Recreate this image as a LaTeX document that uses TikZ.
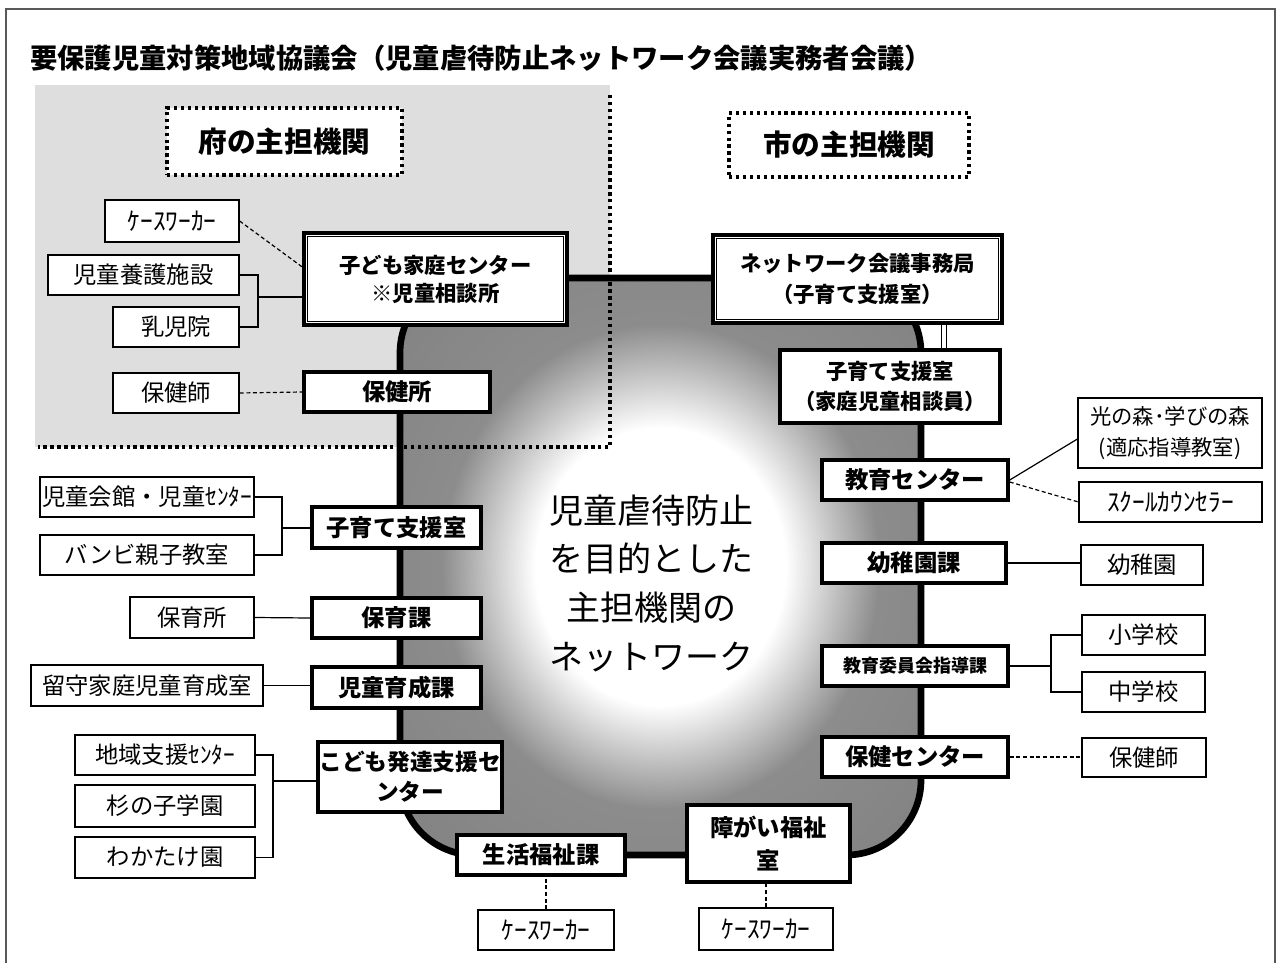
\documentclass[tikz,border=0pt]{standalone}
\usepackage{fontspec}
\setmainfont{Noto Sans CJK JP}
\pgfdeclarelayer{bg}
\pgfsetlayers{bg,main}
\pgfdeclareradialshading{glow}{\pgfpoint{0bp}{0bp}}{color(0bp)=(white); color(12bp)=(white); color(21bp)=(black!45); color(45bp)=(black!52)}
\newcommand\bx[7]{\node[#1, minimum width={(#5-#3)*0.75pt}, minimum height={(#6-#4)*0.75pt}] (#2) at ({(#3+#5)/2},{(#4+#6)/2}) {#7};}
\begin{document}
\begin{tikzpicture}[x=0.75pt,y=-0.75pt,
  thinbox/.style={draw=black, line width=0.9pt, fill=white, inner sep=0pt, align=center, font=\fontsize{17.5}{22}\selectfont},
  thickbox/.style={draw=black, line width=2.6pt, fill=white, inner sep=0pt, align=center, font=\bfseries\fontsize{17.5}{22}\selectfont},
  dotbox/.style={draw=black, fill=white, line width=2.4pt, dash pattern=on 2.4pt off 2.8pt, inner sep=0pt, font=\bfseries\fontsize{21.5}{25}\selectfont},
  dotline/.style={line width=2.6pt, dash pattern=on 2.6pt off 2.6pt},
  conn/.style={line width=0.9pt},
  dconn/.style={line width=0.9pt, dash pattern=on 3pt off 2pt},
  halfw/.style={font=\fontsize{19}{22}\selectfont},
  innerline/.style={line width=0.8pt}
]
\useasboundingbox (0,0) rectangle (1277,963);

% title
\node[anchor=west, inner sep=0pt, font=\bfseries\fontsize{20.5}{24}\selectfont] (title) at (30,58) {要保護児童対策地域協議会（児童虐待防止ネットワーク会議実務者会議）};

% heading boxes
\bx{dotbox}{fu}{167}{108}{402}{175}{府の主担機関}
\bx{dotbox}{shi}{729}{113}{969}{177}{市の主担機関}

% left boxes
\bx{thinbox,halfw}{cw1}{105}{200}{239}{242}{ｹｰｽﾜｰｶｰ}
\bx{thickbox,font=\bfseries\fontsize{16}{21}\selectfont}{kodomo}{304}{233}{567}{325}{子ども家庭センター\\※児童相談所}
\bx{thinbox}{yogo}{48}{255}{239}{295}{児童養護施設}
\bx{thinbox}{nyuji}{113}{307}{239}{347}{乳児院}
\bx{thinbox}{hokenshi1}{113}{373}{239}{413}{保健師}
\bx{thickbox}{hokenjo}{304}{372}{490}{412}{保健所}

\bx{thinbox}{jidokan}{40}{477}{254}{517}{児童会館・児童ｾﾝﾀｰ}
\bx{thinbox}{banbi}{40}{535}{254}{575}{バンビ親子教室}
\bx{thickbox}{kosodate1}{312}{507}{481}{548}{子育て支援室}
\bx{thinbox}{hoikusho}{130}{597}{254}{638}{保育所}
\bx{thickbox}{hoikuka}{312}{598}{481}{638}{保育課}
\bx{thinbox}{rusu}{31}{665}{263}{706}{留守家庭児童育成室}
\bx{thickbox}{ikusei}{312}{667}{481}{708}{児童育成課}
\bx{thinbox}{chiiki}{75}{735}{255}{775}{地域支援ｾﾝﾀｰ}
\bx{thinbox}{sugi}{75}{785}{255}{827}{杉の子学園}
\bx{thinbox}{wakatake}{75}{837}{255}{878}{わかたけ園}
\bx{thickbox,font=\bfseries\fontsize{17}{22.5}\selectfont}{hattatsu}{318}{742}{502}{812}{こども発達支援セ\\ンター}
\bx{thickbox}{seikatsu}{457}{835}{625}{875}{生活福祉課}
\bx{thinbox,halfw}{cw2}{478}{910}{614}{950}{ｹｰｽﾜｰｶｰ}
\bx{thickbox,font=\bfseries\fontsize{17.5}{25}\selectfont}{shogai}{687}{805}{850}{882}{障がい福祉\\室}
\bx{thinbox,halfw}{cw3}{699}{908}{833}{950}{ｹｰｽﾜｰｶｰ}

% right boxes
\bx{thickbox,font=\bfseries\fontsize{16}{23}\selectfont}{net}{713}{235}{1002}{323}{ネットワーク会議事務局\\（子育て支援室）}
\bx{thickbox,font=\bfseries\fontsize{16}{22}\selectfont}{kosodate2}{780}{350}{1000}{423}{子育て支援室\\（家庭児童相談員）}
\bx{thickbox}{kyoiku}{822}{460}{1008}{500}{教育センター}
\bx{thinbox,font=\fontsize{16}{23}\selectfont}{hikari}{1078}{398}{1262}{468}{光の森･学びの森\\(適応指導教室)}
\bx{thinbox,halfw}{school}{1079}{482}{1262}{522}{ｽｸｰﾙｶｳﾝｾﾗｰ}
\bx{thickbox}{yochienka}{822}{543}{1006}{583}{幼稚園課}
\bx{thinbox}{yochien}{1081}{545}{1203}{585}{幼稚園}
\bx{thickbox,font=\bfseries\fontsize{13.5}{16}\selectfont}{shido}{822}{646}{1008}{686}{教育委員会指導課}
\bx{thinbox}{sho}{1082}{615}{1205}{655}{小学校}
\bx{thinbox}{chu}{1082}{672}{1205}{712}{中学校}
\bx{thickbox}{hokenc}{822}{737}{1008}{777}{保健センター}
\bx{thinbox}{hokenshi2}{1082}{738}{1206}{777}{保健師}

% inner lines of double boxes
\draw[innerline] ([shift={(4.2pt,-4.2pt)}]kodomo.north west) rectangle ([shift={(-4.2pt,4.2pt)}]kodomo.south east);
\draw[innerline] ([shift={(4.2pt,-4.2pt)}]net.north west) rectangle ([shift={(-4.2pt,4.2pt)}]net.south east);

% centre text
\node[align=center, font=\fontsize{25.5}{36.5}\selectfont] (mid) at (651,583) {児童虐待防止\\を目的とした\\主担機関の\\ネットワーク};

\begin{pgfonlayer}{bg}
  \fill[white] (0,0) rectangle (1277,963);
  % outer frame
  \draw[line width=0.8pt, black!65] (6,963) -- (6,9) -- (1275,9) -- (1275,963);
  % prefecture region
  \fill[black!13] (35,85) rectangle (610,447);
  % network body
  \shade[shading=glow, rounded corners=56pt] (400,278) rectangle (921,855);
  \draw[line width=5pt, rounded corners=56pt] (400,278) rectangle (921,855);
  \draw[dotline] (610,95) -- (610,447) -- (38,447);
  % connectors
  \coordinate (b1) at (258,297);
  \draw[conn] (yogo.east) -| (b1) |- (nyuji.east);
  \draw[conn] (b1) -- (b1 -| kodomo.west);
  \draw[dconn] (cw1.east) -- ([yshift=9pt]kodomo.west);
  \draw[dconn] (hokenshi1.east) -- (hokenjo.west);
  \coordinate (b2) at (282,528);
  \draw[conn] (jidokan.east) -| (b2) |- (banbi.east);
  \draw[conn] (b2) -- (b2 -| kosodate1.west);
  \draw[conn] (hoikusho.east) -- (hoikuka.west);
  \draw[conn] (rusu.east) -- (rusu.east -| ikusei.west);
  \coordinate (b3) at (273,781);
  \draw[conn] (chiiki.east) -| (b3) |- (wakatake.east);
  \draw[conn] (b3) -- (b3 -| hattatsu.west);
  \draw[dconn] (cw2.north) -- (cw2.north |- seikatsu.south);
  \draw[dconn] (cw3.north) -- (cw3.north |- shogai.south);
  \coordinate (dl) at (944,0);
  \draw[line width=0.8pt, double, double distance=3.2pt] (net.south -| dl) -- (kosodate2.north -| dl);
  \draw[conn] (kyoiku.east) -- ([yshift=-4.5pt]hikari.west);
  \draw[dconn] ([yshift=-1.5pt]kyoiku.east) -- (school.west);
  \draw[conn] (yochienka.east) -- (yochienka.east -| yochien.west);
  \coordinate (b4) at (1051,666);
  \draw[conn] (shido.east) -- (b4);
  \draw[conn] (sho.west) -| (b4) |- (chu.west);
  \draw[dconn] (hokenc.east) -- (hokenc.east -| hokenshi2.west);
\end{pgfonlayer}
\end{tikzpicture}
\end{document}
